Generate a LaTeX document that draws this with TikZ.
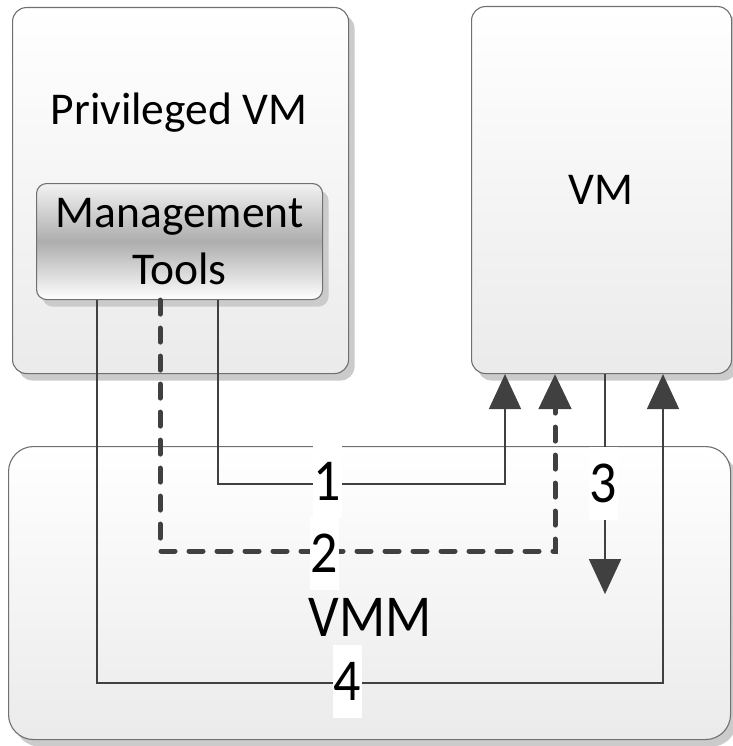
\documentclass[tikz,border=0pt]{standalone}
\usepackage{fontspec}
\usepackage{graphicx}
\setmainfont{Carlito}
\usetikzlibrary{arrows.meta,shadows}
\definecolor{edgec}{HTML}{707070}
\definecolor{lnc}{HTML}{404040}
\definecolor{shadc}{HTML}{CBCBCB}
\newcommand{\tall}[1]{\scalebox{1}[1.1]{#1}}
\begin{document}
\begin{tikzpicture}[x=1pt,y=-1pt,
  box/.style={draw=edgec, line width=1.1pt, rounded corners=14pt, top color=white, bottom color=black!8,
    inner sep=0pt, anchor=north west,
    drop shadow={shadow xshift=6pt, shadow yshift=-7pt, fill=shadc, opacity=1}},
  mtbox/.style={box, rounded corners=10pt, top color=black!5, bottom color=white, middle color=black!32},
  txt/.style={font=\fontsize{45.5}{57}\selectfont, align=center, text=black},
  big/.style={font=\fontsize{54}{54}\selectfont, text=black},
  lab/.style={big, fill=white, minimum width=29pt, minimum height=73pt, inner sep=0pt},
  conn/.style={draw=lnc, line width=1.8pt, -{Triangle[length=35pt,width=32pt]}},
  dconn/.style={conn, line width=5pt, line cap=round, dash pattern=on 14pt off 14pt}
]
\useasboundingbox (0,0) rectangle (732,746);
% boxes
\node[box, minimum width=336pt, minimum height=366pt] (pvm) at (12,7) {};
\node[box, minimum width=260pt, minimum height=367pt] (vm) at (471,6) {};
\node[box, rounded corners=25pt, minimum width=722pt, minimum height=293pt] (vmm) at (8,446) {};
\node[mtbox, minimum width=286pt, minimum height=116pt] (mt) at (36,183) {};
% texts
\node[txt] (pvmt) at (179,113) {Privileged VM};
\node[txt] (vmt) at (601,190) {VM};
\node[txt] (mtt) at (mt.center) {Management\\Tools};
\node[big] (vmmt) at (370,617) {\tall{VMM}};
% connectors
\draw[conn] ([xshift=182pt]mt.south west) -- ++(0,184) -| ([xshift=34pt]vm.south west);
\draw[dconn] ([xshift=124pt]mt.south west) -- ++(0,251) -| ([xshift=84pt]vm.south west);
\draw[conn] ([xshift=134pt]vm.south west) -- ++(0,220);
\draw[conn] ([xshift=61pt]mt.south west) -- ++(0,383) -| ([xshift=192pt]vm.south west);
% labels
\node[lab] (n1) at (327,481) {\tall{1}};
\node[lab] (n2) at (324,553) {\tall{2}};
\node[lab] (n3) at (603,483) {\tall{3}};
\node[lab] (n4) at (347,681) {\tall{4}};
\end{tikzpicture}
\end{document}
